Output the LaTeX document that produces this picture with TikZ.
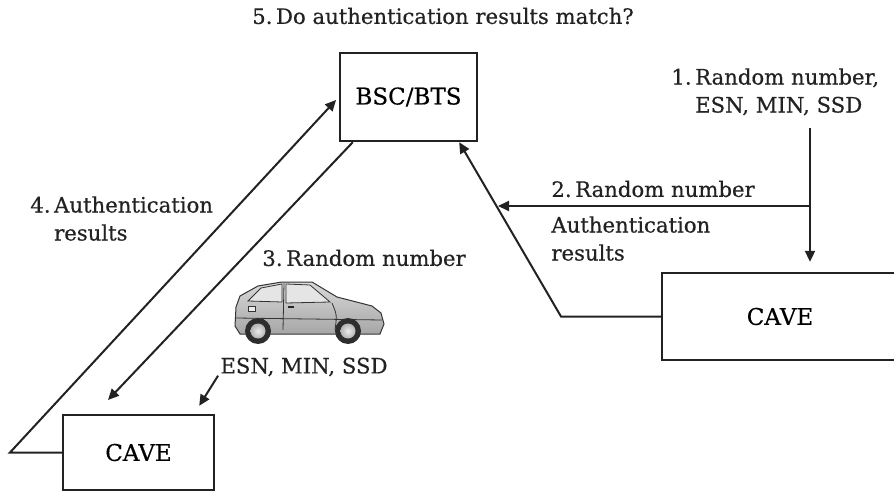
\documentclass[tikz,border=0pt]{standalone}
\usepackage{fontspec}
\setmainfont{DejaVu Serif}[FakeBold=0.5]
\usetikzlibrary{positioning,arrows.meta,calc}
\definecolor{ink}{HTML}{222222}

\begin{document}
\begin{tikzpicture}[x=0.5pt,y=-0.5pt,
  box/.style={draw=ink,line width=1.2pt,inner sep=0pt,font=\fontsize{11.5}{14}\selectfont},
  wire/.style={draw=ink,line width=1pt},
  arr/.style={wire,-{Triangle[length=5.5pt,width=5pt]}},
  lbl/.style={font=\fontsize{10.6}{14}\selectfont,align=left,inner sep=0pt,text=ink}]
\useasboundingbox (0,0) rectangle (894,492);

% boxes
\node[box,minimum width=68.5pt,minimum height=44pt] (bsc) at (408.5,97) {BSC/BTS};
\node[box,minimum width=118pt,minimum height=43.5pt] (cavenet) at (780,316.5) {CAVE};
\node[box,minimum width=75.5pt,minimum height=37.5pt] (cavems) at (138.5,452.5) {CAVE};

% labels
\node[lbl,anchor=center] (q5) at (443,16) {5.\,Do authentication results match?};
\node[lbl,anchor=north west] (m1) at (671,68) {1.\,Random number,\\\phantom{1.\,}ESN, MIN, SSD};
\node[lbl,anchor=west] (m2) at (551,189) {2.\,Random number};
\node[lbl,anchor=north west] (r2) at (551,216) {Authentication\\results};
\node[lbl,anchor=north west] (m4) at (30,196) {4.\,Authentication\\\phantom{4.\,}results};
\node[lbl,anchor=west] (m3) at (262,258) {3.\,Random number};
\node[lbl,anchor=center] (ids) at (304,367) {ESN, MIN, SSD};

\coordinate (v1) at (810,128);
\coordinate (j2) at (810,206);
\coordinate (t2) at (498,206);
\coordinate (k2) at (561,316.5);
\coordinate (k4) at (10,452.5);
\coordinate (t3) at (108,400);

% 1 and 2: from the network side
\draw[arr,shorten >=5pt] (v1) -- (v1 |- cavenet.north);
\draw[arr] (j2) -- (t2);
\draw[arr] (cavenet.west) -- (k2) -- ($(bsc.south east)+(-19,0)$);
% 3 and 4: over the air
\draw[arr] ($(bsc.south west)+(14,0)$) -- (t3);
\draw[arr,shorten >=2pt] (cavems.west) -- (k4) -- (bsc.west);
\draw[arr] ($(ids.south west)+(-2,-1)$) -- ($(cavems.north east)+(-16,-8)$);

% the car
\shade[top color=gray!30,bottom color=gray!70,draw=gray!40!black,line width=0.5pt]
  (240,296) -- (258,286) -- (282,282) -- (312,282) -- (337,297) -- (372,306)
  -- (381,313) -- (384,324) -- (380,334) -- (240,334) -- (235,326) -- (236,307) -- cycle;
\fill[gray!20,draw=gray!40!black,line width=0.4pt] (248,301) -- (261,288) -- (282,284) -- (282,302) -- cycle;
\fill[gray!20,draw=gray!40!black,line width=0.4pt] (286,284) -- (310,285) -- (330,302) -- (286,303) -- cycle;
\draw[gray!40!black,line width=0.4pt] (284,283) -- (283,330) (332,303) .. controls (337,315) .. (335,330)
  (236,318) -- (382,320);
\draw[gray!40!black,line width=0.4pt,fill=gray!15] (248,306) rectangle (255,311);
\draw[gray!30!black,line width=0.8pt] (288,307) -- (294,307);
\foreach \cx in {258,348}{
  \fill[gray!35!black] (\cx,331) circle (13);
  \shade[inner color=gray!15,outer color=gray!60] (\cx,331) circle (7.5);
}
\end{tikzpicture}
\end{document}
